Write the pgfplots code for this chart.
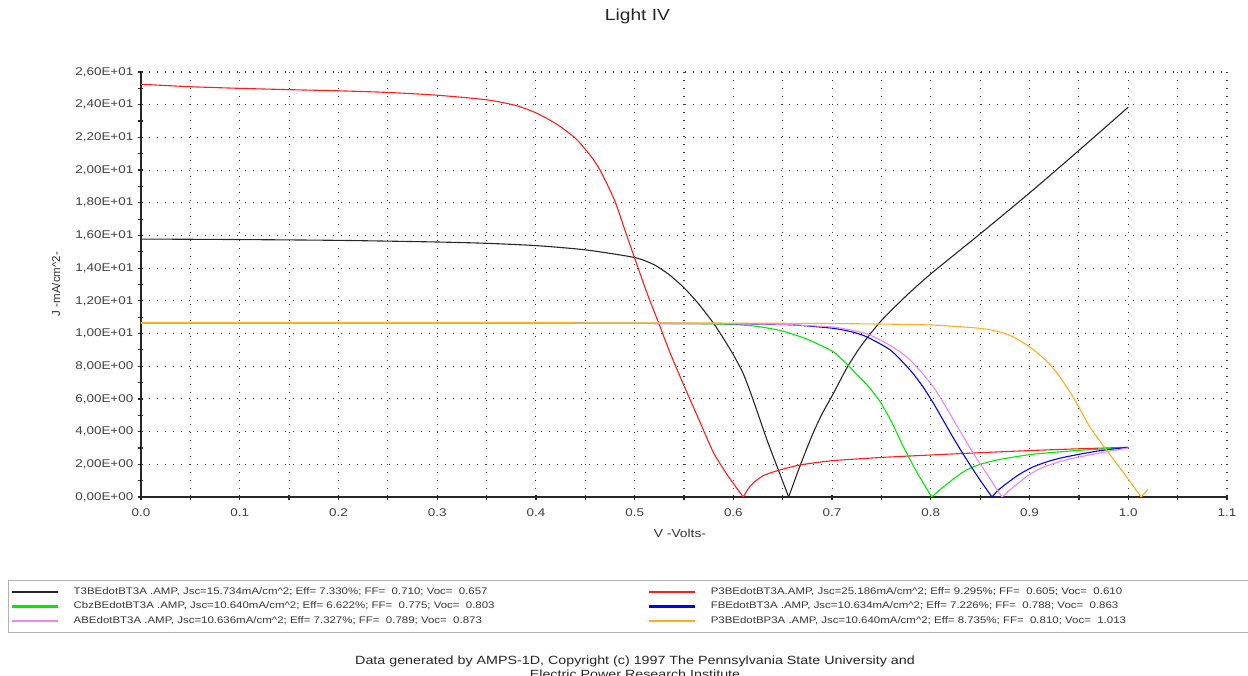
\documentclass[border=0pt]{standalone}
\usepackage{fontspec}
\setmainfont{Liberation Sans}[FakeStretch=1.2]
\newfontfamily\ylfont{Liberation Sans}
\usepackage{pgfplots}
\pgfplotsset{compat=1.18}
\definecolor{cBlack}{RGB}{40,40,40}
\definecolor{lineRed}{RGB}{255,30,30}
\definecolor{cGreen}{RGB}{0,235,0}
\definecolor{cBlue}{RGB}{0,0,255}
\definecolor{cPink}{RGB}{240,135,240}
\definecolor{cOrange}{RGB}{255,175,30}
\definecolor{legText}{RGB}{55,55,55}
\begin{document}
\begin{tikzpicture}
\path[use as bounding box] (0,0) rectangle (1248pt,675pt);
\clip (0,0) rectangle (1248pt,675pt);
\begin{axis}[
  at={(141pt,178pt)}, anchor=south west,
  scale only axis, width=1086pt, height=425pt,
  xmin=0, xmax=1.1, ymin=0, ymax=26,
  axis x line*=bottom, axis y line*=left,
  axis line style={line width=1.6pt, black!85},
  xtick={0,0.1,0.2,0.3,0.4,0.5,0.6,0.7,0.8,0.9,1.0,1.1},
  xticklabels={0.0,0.1,0.2,0.3,0.4,0.5,0.6,0.7,0.8,0.9,1.0,1.1},
  ytick={0,2,4,6,8,10,12,14,16,18,20,22,24,26},
  yticklabels={{0,00E+00},{2,00E+00},{4,00E+00},{6,00E+00},{8,00E+00},{1,00E+01},{1,20E+01},{1,40E+01},{1,60E+01},{1,80E+01},{2,00E+01},{2,20E+01},{2,40E+01},{2,60E+01}},
  minor x tick num=1, minor y tick num=1,
  tick align=center, major tick length=5pt, minor tick length=5pt,
  tick style={line width=1.2pt, black!85},
  xmajorgrids, xminorgrids, ymajorgrids,
  major grid style={black!75, line width=1.1pt, dash pattern=on 1.1pt off 6.9pt},
  minor grid style={black!75, line width=1.1pt, dash pattern=on 1.1pt off 6.9pt},
  tick label style={font=\fontsize{11.2}{13}\selectfont, text=black!75},
  yticklabel style={inner sep=0pt, xshift=-5pt},
  xticklabel style={inner sep=0pt, yshift=-9pt},
  title={Light IV},
  title style={at={(0.4572,1.1176)}, anchor=center, font=\fontsize{16}{18}\selectfont, text=black!85},
  xlabel={V -Volts-},
  xlabel style={at={(0.4963,-0.0847)}, anchor=center, font=\fontsize{11.5}{13}\selectfont, text=black!80},
  ylabel={J -mA/cm\textasciicircum 2-},
  ylabel style={at={(-0.0783,0.5012)}, anchor=center, rotate=0, font=\ylfont\fontsize{11.5}{13}\selectfont, text=black!80},
  legend columns=2,
  legend cell align=left,
  legend style={at={(-0.12247,-0.19529)}, anchor=north west, draw=black!30, line width=1.2pt, fill=white,
    font=\fontsize{9.55}{11}\selectfont, inner xsep=3pt, inner ysep=6.5pt, row sep=5pt,
    /tikz/every odd column/.append style={column sep=16pt},
    /tikz/every even column/.append style={column sep=10pt},
    nodes={inner sep=0pt, text height=7pt, text depth=2.5pt}},
  every axis plot/.append style={line width=1.1pt, forget plot},
]
% T3BEdotBT3A (black)
\addplot[cBlack, smooth, tension=0.4] coordinates {
(0,15.78) (0.1,15.75) (0.2,15.70) (0.3,15.60) (0.35,15.52) (0.4,15.38) (0.45,15.12) (0.5,14.65)
(0.52,14.2) (0.535,13.6) (0.55,12.8) (0.565,11.8) (0.58,10.62) (0.59,9.7) (0.6,8.7) (0.61,7.55)
(0.62,5.95) (0.634,3.5) (0.645,1.75) (0.656,0)};
\addplot[cBlack, smooth, tension=0.4] coordinates {
(0.656,0) (0.6675,1.9) (0.68,3.8) (0.69,5.1) (0.701,6.3) (0.715,7.9) (0.73,9.3) (0.75,10.8)
(0.775,12.3) (0.8,13.65) (0.85,16.1) (0.9,18.6) (0.95,21.2) (1.0,23.85)};
% P3BEdotBT3A (red)
\addplot[draw=lineRed, smooth, tension=0.4] coordinates {
(0,25.25) (0.05,25.1) (0.1,25.0) (0.15,24.92) (0.2,24.85) (0.25,24.75) (0.3,24.58) (0.35,24.3)
(0.38,23.95) (0.4,23.5) (0.42,22.85) (0.44,21.95) (0.455,20.9) (0.465,20.0) (0.48,18.1) (0.492,16.0)
(0.503,14.1) (0.513,12.4) (0.524,10.7) (0.536,8.8) (0.549,6.95) (0.565,4.75) (0.58,2.7) (0.595,1.25) (0.61,0)};
\addplot[draw=lineRed, smooth, tension=0.4] coordinates {
(0.61,0) (0.615,0.5) (0.62,0.85) (0.63,1.3) (0.644,1.6) (0.6675,1.96) (0.7,2.22) (0.75,2.42)
(0.8,2.57) (0.85,2.71) (0.9,2.84) (0.95,2.95) (1.0,3.04)};
% CbzBEdotBT3A (green)
\addplot[cGreen, smooth, tension=0.4] coordinates {
(0,10.65) (0.2,10.65) (0.4,10.64) (0.5,10.63) (0.57,10.6) (0.6,10.55) (0.624,10.44) (0.65,10.15)
(0.675,9.65) (0.701,8.89) (0.713,8.25) (0.725,7.5) (0.737,6.75) (0.749,5.8) (0.761,4.5) (0.772,3.1)
(0.786,1.5) (0.801,0)};
\addplot[cGreen, smooth, tension=0.4] coordinates {
(0.801,0) (0.813,0.63) (0.825,1.2) (0.836,1.65) (0.85,2.0) (0.87,2.3) (0.904,2.62) (0.954,2.87) (1.0,3.02)};
% FBEdotBT3A (blue)
\addplot[cBlue, smooth, tension=0.4] coordinates {
(0,10.63) (0.2,10.63) (0.4,10.63) (0.5,10.62) (0.6,10.6) (0.65,10.55) (0.6675,10.5) (0.701,10.32)
(0.72,10.1) (0.735,9.8) (0.759,8.99) (0.779,7.77) (0.792,6.75) (0.803,5.7) (0.812,4.75) (0.822,3.7)
(0.832,2.7) (0.842,1.75) (0.852,0.85) (0.862,0)};
\addplot[cBlue, smooth, tension=0.4] coordinates {
(0.862,0) (0.868,0.4) (0.877,0.84) (0.89,1.4) (0.904,1.85) (0.92,2.2) (0.938,2.47) (0.971,2.83) (1.0,3.04)};
% ABEdotBT3A (pink)
\addplot[cPink, smooth, tension=0.4] coordinates {
(0,10.63) (0.2,10.63) (0.4,10.63) (0.5,10.62) (0.6,10.6) (0.65,10.56) (0.7,10.4) (0.72,10.2)
(0.735,10.0) (0.752,9.5) (0.766,9.0) (0.779,8.38) (0.791,7.6) (0.803,6.7) (0.813,5.75) (0.823,4.71)
(0.833,3.7) (0.843,2.67) (0.858,1.3) (0.872,0)};
\addplot[cPink, smooth, tension=0.4] coordinates {
(0.872,0) (0.884,0.63) (0.897,1.25) (0.911,1.75) (0.927,2.1) (0.944,2.37) (0.978,2.77) (1.0,3.0)};
% P3BEdotBP3A (orange)
\addplot[cOrange, smooth, tension=0.4] coordinates {
(0,10.67) (0.2,10.67) (0.4,10.66) (0.6,10.64) (0.7,10.61) (0.75,10.58) (0.802,10.52) (0.85,10.32)
(0.87,10.1) (0.885,9.75) (0.9,9.19) (0.914,8.5) (0.927,7.66) (0.944,6.13) (0.961,4.3) (0.978,2.87)
(0.995,1.5) (1.013,0)};
\addplot[cOrange] coordinates {(1.013,0) (1.02,0.45)};
% legend (samples drawn as thin filled bars)
\addlegendimage{legend image code/.code={\fill[cBlack] (0pt,-0.6pt) rectangle (45pt,0.6pt);}}
\addlegendentry{\makebox[565pt][l]{\color{legText}T3BEdotBT3A .AMP, Jsc=15.734mA/cm\textasciicircum 2; Eff= 7.330\%; FF=\ \ 0.710; Voc=\ \ 0.657}}
\addlegendimage{legend image code/.code={\fill[lineRed] (0pt,-0.6pt) rectangle (45pt,0.6pt);}}
\addlegendentry{\makebox[545pt][l]{\color{legText}P3BEdotBT3A.AMP, Jsc=25.186mA/cm\textasciicircum 2; Eff= 9.295\%; FF=\ \ 0.605; Voc=\ \ 0.610}}
\addlegendimage{legend image code/.code={\fill[cGreen] (0pt,-0.6pt) rectangle (45pt,0.6pt);}}
\addlegendentry{\makebox[565pt][l]{\color{legText}CbzBEdotBT3A .AMP, Jsc=10.640mA/cm\textasciicircum 2; Eff= 6.622\%; FF=\ \ 0.775; Voc=\ \ 0.803}}
\addlegendimage{legend image code/.code={\fill[cBlue] (0pt,-0.6pt) rectangle (45pt,0.6pt);}}
\addlegendentry{\makebox[545pt][l]{\color{legText}FBEdotBT3A .AMP, Jsc=10.634mA/cm\textasciicircum 2; Eff= 7.226\%; FF=\ \ 0.788; Voc=\ \ 0.863}}
\addlegendimage{legend image code/.code={\fill[cPink] (0pt,-0.6pt) rectangle (45pt,0.6pt);}}
\addlegendentry{\makebox[565pt][l]{\color{legText}ABEdotBT3A .AMP, Jsc=10.636mA/cm\textasciicircum 2; Eff= 7.327\%; FF=\ \ 0.789; Voc=\ \ 0.873}}
\addlegendimage{legend image code/.code={\fill[cOrange] (0pt,-0.6pt) rectangle (45pt,0.6pt);}}
\addlegendentry{\makebox[545pt][l]{\color{legText}P3BEdotBP3A .AMP, Jsc=10.640mA/cm\textasciicircum 2; Eff= 8.735\%; FF=\ \ 0.810; Voc=\ \ 1.013}}
\end{axis}
\node[anchor=base, font=\fontsize{11.9}{13}\selectfont, text=black!85] at (635pt,11pt) {Data generated by AMPS-1D, Copyright (c) 1997 The Pennsylvania State University and};
\node[anchor=base, font=\fontsize{11.9}{13}\selectfont, text=black!85] at (635pt,-3pt) {Electric Power Research Institute};
\end{tikzpicture}
\end{document}
